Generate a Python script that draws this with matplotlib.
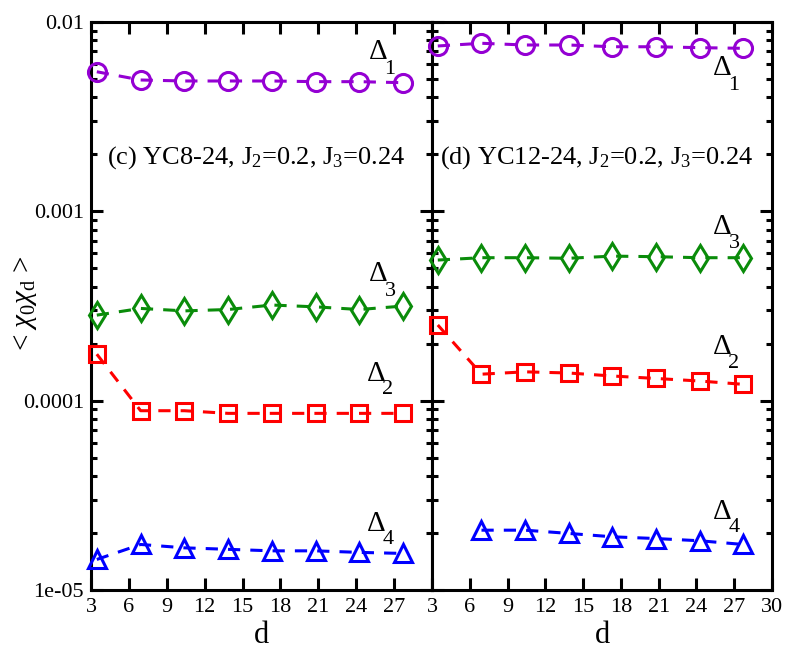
import numpy as np
import matplotlib
matplotlib.use("Agg")
import matplotlib.pyplot as plt
from matplotlib.ticker import FixedLocator, LogLocator, NullFormatter

plt.rcParams["font.family"] = ["Liberation Serif", "DejaVu Serif"]
plt.rcParams["mathtext.fontset"] = "custom"
plt.rcParams["mathtext.rm"] = "Liberation Serif"
plt.rcParams["mathtext.it"] = "Liberation Serif:italic"

# distances d
d_c = [3.46, 6.93, 10.39, 13.86, 17.32, 20.78, 24.25, 27.71]
d_d = [3.46, 6.93, 10.39, 13.86, 17.32, 20.78, 24.25, 27.71]
d_d4 = [6.93, 10.39, 13.86, 17.32, 20.78, 24.25, 27.71]

# (c) YC8-24
c_delta1 = [5.46e-3, 4.94e-3, 4.88e-3, 4.88e-3, 4.88e-3, 4.84e-3, 4.84e-3, 4.78e-3]
c_delta3 = [2.83e-4, 3.07e-4, 2.98e-4, 3.03e-4, 3.20e-4, 3.13e-4, 3.03e-4, 3.16e-4]
c_delta2 = [1.76e-4, 8.85e-5, 8.85e-5, 8.57e-5, 8.57e-5, 8.57e-5, 8.57e-5, 8.57e-5]
c_delta4 = [1.45e-5, 1.74e-5, 1.67e-5, 1.64e-5, 1.61e-5, 1.61e-5, 1.58e-5, 1.56e-5]

# (d) YC12-24
d_delta1 = [7.47e-3, 7.72e-3, 7.56e-3, 7.56e-3, 7.40e-3, 7.40e-3, 7.32e-3, 7.26e-3]
d_delta3 = [5.53e-4, 5.69e-4, 5.69e-4, 5.65e-4, 5.80e-4, 5.76e-4, 5.69e-4, 5.69e-4]
d_delta2 = [2.51e-4, 1.38e-4, 1.42e-4, 1.40e-4, 1.35e-4, 1.31e-4, 1.27e-4, 1.22e-4]
d_delta4 = [2.07e-5, 2.07e-5, 1.99e-5, 1.91e-5, 1.87e-5, 1.82e-5, 1.74e-5]

xticks = [3, 6, 9, 12, 15, 18, 21, 24, 27, 30]

violet = "#9400d3"
green = "#0a8c0a"
red = "#ff0000"
blue = "#0000ff"

W, H = 786, 652
fig = plt.figure(figsize=(W / 100, H / 100), dpi=100)
ax1 = fig.add_axes([91 / W, 1 - 590 / H, 341 / W, 568 / H])
ax2 = fig.add_axes([432 / W, 1 - 590 / H, 340 / W, 568 / H])


def courbe(ax, x, y, couleur, marqueur, taille):
    ax.plot(x, y, color=couleur, lw=2.2, dashes=(4, 3.3), marker=marqueur,
            ms=taille, mfc="none", mec=couleur, mew=2.2, clip_on=False, zorder=3)


courbe(ax1, d_c, c_delta1, violet, "o", 13)
courbe(ax1, d_c, c_delta3, green, "d", 13)
courbe(ax1, d_c, c_delta2, red, "s", 11.5)
courbe(ax1, d_c, c_delta4, blue, "^", 13)

courbe(ax2, d_d, d_delta1, violet, "o", 13)
courbe(ax2, d_d, d_delta3, green, "d", 13)
courbe(ax2, d_d, d_delta2, red, "s", 11.5)
courbe(ax2, d_d4, d_delta4, blue, "^", 13)

for ax in (ax1, ax2):
    ax.set_yscale("log")
    ax.set_ylim(1e-5, 1e-2)
    ax.set_xlim(3, 30)
    ax.xaxis.set_major_locator(FixedLocator(xticks))
    ax.yaxis.set_major_locator(LogLocator(base=10, numticks=10))
    ax.yaxis.set_minor_locator(LogLocator(base=10, subs=np.arange(2, 10), numticks=10))
    ax.yaxis.set_minor_formatter(NullFormatter())
    ax.tick_params(which="both", direction="in", top=True, right=True, width=2.2)
    ax.tick_params(which="major", length=8.6, labelsize=16)
    ax.tick_params(which="minor", length=4.3)
    ax.tick_params(axis="x", pad=6)
    ax.tick_params(axis="y", pad=5)
    for s in ax.spines.values():
        s.set_linewidth(2.2)
    ax.set_xlabel("d", fontsize=22)
    ax.xaxis.set_label_coords(0.5, -0.055)

ax1.set_xticklabels([str(t) for t in xticks[:-1]] + [""])
ax1.set_yticks([1e-5, 1e-4, 1e-3, 1e-2])
ax1.set_yticklabels(["1e-05", "0.0001", "0.001", "0.01"])
ax2.set_yticklabels([])
ax2.set_xticklabels([str(t) for t in xticks])

ax1.set_ylabel(r"< $\chi_0\chi_{\rm d}$ >", fontsize=21)
ax1.yaxis.set_label_coords(-0.152, 0.505)

fig.text(256 / W, 1 - 158 / H, r"(c) YC8-24, J$_2$=0.2, J$_3$=0.24",
         ha="center", va="center", fontsize=19)
fig.text(596 / W, 1 - 158 / H, r"(d) YC12-24, J$_2$=0.2, J$_3$=0.24",
         ha="center", va="center", fontsize=19)

# labels Δ_n : (x, y) of Δ, (x, y) of index
etiquettes = [
    ("1", 378, 52, 390, 69), ("3", 378, 274, 390, 291),
    ("2", 376, 374, 388, 390), ("4", 376, 524, 388, 540),
    ("1", 722, 68, 734, 85), ("3", 722, 227, 734, 243),
    ("2", 722, 347, 734, 364), ("4", 722, 512, 734, 528),
]
for n, xd, yd, xs, ys in etiquettes:
    fig.text(xd / W, 1 - yd / H, "Δ", ha="center", va="center", fontsize=21)
    fig.text(xs / W, 1 - ys / H, n, ha="center", va="center", fontsize=16)

fig.savefig("out.png", dpi=100)
